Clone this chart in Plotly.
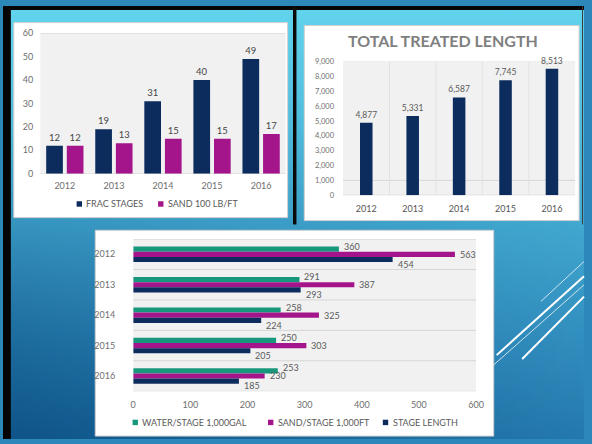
import base64
import plotly.graph_objects as go

W, H = 592, 444

# ---------------- data ----------------
years = ["2012", "2013", "2014", "2015", "2016"]

frac_stages = [12, 19, 31, 40, 49]
sand_100lb_ft = [12, 13, 15, 15, 17]
top_left_names = ["FRAC STAGES", "SAND 100 LB/FT"]
top_left_ticks = [0, 10, 20, 30, 40, 50, 60]

treated_length = [4877, 5331, 6587, 7745, 8513]
right_title = "TOTAL TREATED LENGTH"
right_ticks = [0, 1000, 2000, 3000, 4000, 5000, 6000, 7000, 8000, 9000]

water_per_stage = [360, 291, 258, 250, 253]
sand_per_stage = [563, 387, 325, 303, 230]
stage_length = [454, 293, 224, 205, 185]
bottom_names = ["WATER/STAGE 1,000GAL", "SAND/STAGE 1,000FT", "STAGE LENGTH"]
bottom_ticks = [0, 100, 200, 300, 400, 500, 600]

# ---------------- style ----------------
NAVY = "#0c2c5e"
MAGENTA = "#a4148b"
TEAL = "#17977c"
FONT = "Lato, 'DejaVu Sans', sans-serif"
TICK = "#6e6e6e"
LABEL = "#454545"
GRID = "#d6d6d6"
AREA = "#f1f1f1"


def px(x):
    return x / W


def py(y):
    return 1 - y / H


fig = go.Figure()

# ---- top-left: grouped columns ----
fig.add_trace(go.Bar(x=years, y=frac_stages, name=top_left_names[0], xaxis="x", yaxis="y",
                     marker=dict(color=NAVY, line=dict(width=0)), width=0.34, offset=-0.38,
                     text=frac_stages, textposition="outside", textangle=0, constraintext="none",
                     cliponaxis=False, textfont=dict(size=9.5, color=LABEL, family=FONT)))
fig.add_trace(go.Bar(x=years, y=sand_100lb_ft, name=top_left_names[1], xaxis="x", yaxis="y",
                     marker=dict(color=MAGENTA, line=dict(width=0)), width=0.34, offset=0.04,
                     text=sand_100lb_ft, textposition="outside", textangle=0, constraintext="none",
                     cliponaxis=False, textfont=dict(size=9.5, color=LABEL, family=FONT)))

# ---- top-right: single series columns ----
fig.add_trace(go.Bar(x=years, y=treated_length, name=right_title, xaxis="x2", yaxis="y2",
                     marker=dict(color=NAVY, line=dict(width=0)), width=0.27, offset=-0.135,
                     texttemplate="%{y:,}", textposition="outside", textangle=0,
                     constraintext="none", cliponaxis=False,
                     textfont=dict(size=8.5, color="#5a5a5a", family=FONT)))

# ---- bottom: grouped horizontal bars ----
bottom_series = [(water_per_stage, TEAL, -0.255, 8),
                 (sand_per_stage, MAGENTA, -0.085, 0),
                 (stage_length, NAVY, 0.085, -10)]
for (vals, col, off, ysh), name in zip(bottom_series, bottom_names):
    fig.add_trace(go.Bar(x=vals, y=years, orientation="h", name=name, xaxis="x3", yaxis="y3",
                         marker=dict(color=col, line=dict(width=0)), width=0.17, offset=off))

annotations = []
for (vals, col, off, ysh) in bottom_series:
    for i, v in enumerate(vals):
        annotations.append(dict(x=v, y=i, xref="x3", yref="y3", text=str(v), showarrow=False,
                                xanchor="left", yanchor="middle", xshift=3, yshift=ysh,
                                font=dict(size=9, color="#5a5a5a", family=FONT)))

# title of right chart
annotations.append(dict(x=px(448), y=py(35), xref="paper", yref="paper", text="<b>%s</b>" % right_title,
                        showarrow=False, xanchor="center", yanchor="middle",
                        font=dict(size=16, color="#7f7f7f", family=FONT)))

# manual legends (squares + text)
shapes = []
legend_items = [
    (top_left_names[0], NAVY, 75, 203),
    (top_left_names[1], MAGENTA, 158, 203),
    (bottom_names[0], TEAL, 132, 427),
    (bottom_names[1], MAGENTA, 270, 427),
    (bottom_names[2], NAVY, 387, 427),
]
for name, col, x0, yc in legend_items:
    shapes.append(dict(type="rect", xref="paper", yref="paper", x0=px(x0), x1=px(x0 + 5.5),
                       y0=py(yc + 2.8), y1=py(yc - 2.8), fillcolor=col, line=dict(width=0),
                       layer="above"))
    annotations.append(dict(x=px(x0 + 8), y=py(yc), xref="paper", yref="paper", text=name,
                            showarrow=False, xanchor="left", yanchor="middle",
                            font=dict(size=9, color="#5a5a5a", family=FONT)))

# ---------------- background pieces ----------------
# white panels
for (x0, y0, x1, y1) in [(11, 17, 290, 217), (307, 20, 587, 220), (94, 230, 500, 441)]:
    shapes.append(dict(type="rect", xref="paper", yref="paper", x0=px(x0), x1=px(x1),
                       y0=py(y1), y1=py(y0), fillcolor="white",
                       line=dict(color="#cfcfcf", width=1), layer="below"))

# plot-area tints
for ax in ["", "2", "3"]:
    shapes.append(dict(type="rect", xref="x%s domain" % ax, yref="y%s domain" % ax,
                       x0=0, x1=1, y0=0, y1=1, fillcolor=AREA, line=dict(width=0), layer="below"))

# top-left rules
for yv in [0, 60]:
    shapes.append(dict(type="line", xref="x domain", yref="y", x0=0, x1=1, y0=yv, y1=yv,
                       line=dict(color=GRID, width=1), layer="below"))
# top-right rules
for yv in [0, 1000]:
    shapes.append(dict(type="line", xref="x2 domain", yref="y2", x0=0, x1=1, y0=yv, y1=yv,
                       line=dict(color=GRID, width=1), layer="below"))
shapes.append(dict(type="line", xref="x2 domain", yref="y2", x0=0, x1=1, y0=9000, y1=9000,
                   line=dict(color="#e4e4e4", width=1), layer="below"))
for xv in [0.5, 1.5, 2.5, 3.5]:
    shapes.append(dict(type="line", xref="x2", yref="y2 domain", x0=xv, x1=xv, y0=0, y1=1,
                       line=dict(color="#e2e2e2", width=1), layer="below"))
# bottom rules between categories
for yv in [-0.5, 0.5, 1.5, 2.5, 3.5, 4.5]:
    shapes.append(dict(type="line", xref="x3 domain", yref="y3", x0=0, x1=1, y0=yv, y1=yv,
                       line=dict(color=GRID, width=1), layer="below"))

# black frame pieces
shapes.append(dict(type="rect", xref="paper", yref="paper", x0=0, x1=px(8), y0=0, y1=1,
                   fillcolor="#050505", line=dict(width=0), layer="above"))
shapes.append(dict(type="rect", xref="paper", yref="paper", x0=0, x1=1, y0=py(4), y1=1,
                   fillcolor="#050505", line=dict(width=0), layer="above"))
shapes.append(dict(type="rect", xref="paper", yref="paper", x0=px(295.5), x1=px(299), y0=py(224),
                   y1=1, fillcolor="#0a0a0a", line=dict(width=0), layer="above"))
shapes.append(dict(type="line", xref="paper", yref="paper", x0=px(590.5), x1=px(590.5), y0=py(224),
                   y1=1, line=dict(color="#3a3a3a", width=1), layer="above"))

# decorative white strokes
for (xa, ya, xb, yb, w, op) in [(548, 303, 592, 262, 1, 0.75), (503, 358, 592, 277, 2, 1.0),
                                (500, 368, 592, 286, 1, 0.75), (529, 362, 592, 298, 2, 1.0)]:
    shapes.append(dict(type="line", xref="paper", yref="paper", x0=px(xa), y0=py(ya),
                       x1=px(xb), y1=py(yb), line=dict(color="white", width=w),
                       opacity=op, layer="above"))

# gradient slide background (svg)
svg = """<svg xmlns="http://www.w3.org/2000/svg" width="592" height="444" viewBox="0 0 592 444" preserveAspectRatio="none">
<defs>
<linearGradient id="v" x1="0" y1="0" x2="0" y2="1">
<stop offset="0" stop-color="#63d4ee"/>
<stop offset="0.06" stop-color="#5ecfea"/>
<stop offset="0.5" stop-color="#42a8d0"/>
<stop offset="0.75" stop-color="#3390c0"/>
<stop offset="1" stop-color="#2479ad"/>
</linearGradient>
<linearGradient id="h" x1="0" y1="0" x2="1" y2="0">
<stop offset="0" stop-color="#003a70" stop-opacity="0.6"/>
<stop offset="1" stop-color="#003a70" stop-opacity="0"/>
</linearGradient>
<linearGradient id="mv" x1="0" y1="0" x2="0" y2="1">
<stop offset="0.28" stop-color="#000000"/>
<stop offset="1" stop-color="#ffffff"/>
</linearGradient>
<mask id="m"><rect width="592" height="444" fill="url(#mv)"/></mask>
</defs>
<rect width="592" height="444" fill="url(#v)"/>
<rect width="592" height="444" fill="url(#h)" mask="url(#m)"/>
</svg>"""
bg_uri = "data:image/svg+xml;base64," + base64.b64encode(svg.encode()).decode()

tickfont = dict(size=9, color=TICK, family=FONT)

fig.update_layout(
    width=W, height=H,
    margin=dict(l=0, r=0, t=0, b=0),
    paper_bgcolor="#2d88ba",
    plot_bgcolor="rgba(0,0,0,0)",
    showlegend=False,
    font=dict(family=FONT, color=TICK),
    barmode="group",
    images=[dict(source=bg_uri, xref="paper", yref="paper", x=0, y=1, sizex=1, sizey=1,
                 xanchor="left", yanchor="top", sizing="stretch", layer="below")],
    xaxis=dict(domain=[px(38), px(288)], type="category", categoryorder="array",
               categoryarray=years, range=[-0.5, 4.5], showgrid=False, zeroline=False,
               showline=False, ticks="", tickfont=tickfont, ticklabelstandoff=5, fixedrange=True),
    yaxis=dict(domain=[py(172), py(28)], range=[0, 60], tickvals=top_left_ticks, showgrid=False,
               zeroline=False, showline=False, ticks="", tickfont=tickfont,
               ticklabelstandoff=6, fixedrange=True),
    xaxis2=dict(domain=[px(346.5), px(583)], type="category", categoryorder="array",
                categoryarray=years, range=[-0.5, 4.5], showgrid=False, zeroline=False,
                showline=False, ticks="", tickfont=dict(size=9, color="#555555", family=FONT),
                ticklabelstandoff=7, fixedrange=True, anchor="y2"),
    yaxis2=dict(domain=[py(194), py(57)], range=[0, 9000], tickvals=right_ticks, tickformat=",",
                showgrid=False, zeroline=False, showline=False, ticks="",
                tickfont=dict(size=7.5, color=TICK, family=FONT), ticklabelstandoff=8,
                fixedrange=True, anchor="x2"),
    xaxis3=dict(domain=[px(132.7), px(482)], type="linear", range=[0, 600], tickvals=bottom_ticks,
                showgrid=False, zeroline=False, showline=False, ticks="", tickfont=tickfont,
                ticklabelstandoff=7, fixedrange=True, anchor="y3"),
    yaxis3=dict(domain=[py(395), py(239)], type="category", categoryorder="array",
                categoryarray=years, range=[4.5, -0.5], autorange=False, showgrid=False,
                zeroline=False, showline=False, ticks="", tickfont=tickfont,
                ticklabelstandoff=17, fixedrange=True, anchor="x3"),
    shapes=shapes,
    annotations=annotations,
)

fig.write_html("out.html", config={"displayModeBar": False},
               post_script="document.body.style.margin='0';")
